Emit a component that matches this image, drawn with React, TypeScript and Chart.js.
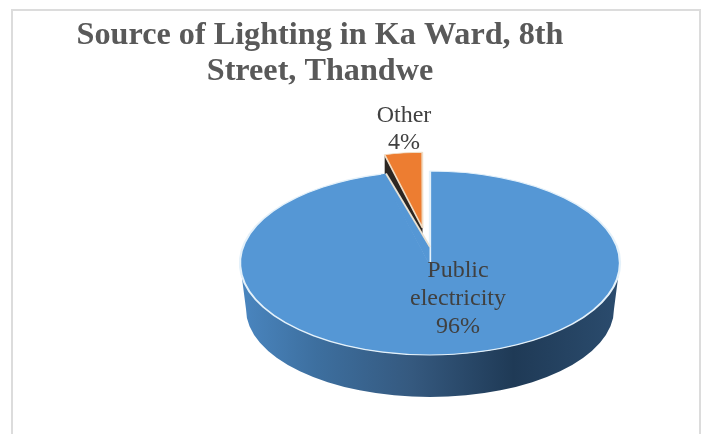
import React, { useEffect, useRef } from "react";
import { Chart, registerables } from "chart.js";

Chart.register(...registerables);

const categories = ["Public electricity", "Other"];
const shares = [96, 4];
const sliceColors = ["#5597d5", "#ed7d31"];
const titleLines = ["Source of Lighting in Ka Ward, 8th", "Street, Thandwe"];

const CX = 430, CY = 263, RX = 190, RY = 92;
const BOTTOM_CY = 309, BOTTOM_RX = 184, BOTTOM_RY = 88;
const WALL_DEPTH = 42;
const serif = "'Liberation Serif', serif";

const pie3d = {
  id: "pie3d",
  beforeDraw(chart: any) {
    const c = chart.ctx;
    c.save();
    c.fillStyle = "#fff";
    c.fillRect(0, 0, 705, 434);
    c.strokeStyle = "#dcdcdc";
    c.lineWidth = 2;
    c.strokeRect(12, 10, 688, 500);
    c.restore();
  },
  beforeDatasetDraw(chart: any) {
    const c = chart.ctx;
    const meta = chart.getDatasetMeta(0);
    const [blue, orange] = meta.data;
    const R = blue.outerRadius;
    const k = RX / R;

    // orange slice: wall then top
    const ok = 0.8;
    const oy = 75 / 190;
    const ox0 = 422.5, oy0 = 228;
    const off = orange.options.offset / 4;
    const half = (orange.startAngle + orange.endAngle) / 2;
    const place = () => {
      c.translate(ox0, oy0);
      c.scale(k * ok, k * oy);
      c.translate(-orange.x - Math.cos(half) * off, -orange.y - Math.sin(half) * off);
    };
    const a = (shares[1] / 100) * Math.PI * 2;
    const cornerX = ox0 - RX * ok * Math.sin(a);
    const cornerY = oy0 - 190 * oy * Math.cos(a);
    c.save();
    c.fillStyle = "#2c2622";
    c.beginPath();
    c.moveTo(ox0, oy0);
    c.lineTo(cornerX, cornerY);
    c.lineTo(cornerX, cornerY + WALL_DEPTH);
    c.lineTo(ox0, oy0 + WALL_DEPTH);
    c.closePath();
    c.fill();
    c.restore();
    c.save();
    place();
    orange.draw(c);
    c.restore();

    // blue side wall
    c.save();
    const g = c.createLinearGradient(CX - RX, 0, CX + RX, 0);
    g.addColorStop(0, "#4a86c0");
    g.addColorStop(0.2, "#3d6f9f");
    g.addColorStop(0.45, "#35597f");
    g.addColorStop(0.72, "#1f3a56");
    g.addColorStop(1, "#2b4c6e");
    c.fillStyle = g;
    c.beginPath();
    c.ellipse(CX, CY, RX, RY, 0, 0, Math.PI);
    c.lineTo(CX - BOTTOM_RX, BOTTOM_CY);
    c.ellipse(CX, BOTTOM_CY, BOTTOM_RX, BOTTOM_RY, 0, Math.PI, 0, true);
    c.closePath();
    c.fill();
    c.restore();

    // blue top
    c.save();
    c.translate(CX, CY);
    c.scale(k, k * (RY / RX));
    c.translate(-blue.x, -blue.y);
    blue.draw(c);
    c.restore();

    // perspective pulls the apex of the notch towards the far rim
    const tipX = 386;
    const tipY = CY - RY * Math.sqrt(1 - ((CX - tipX) / RX) ** 2);
    c.save();
    c.fillStyle = sliceColors[0];
    c.beginPath();
    c.moveTo(CX - 0.5, CY + 2);
    c.lineTo(tipX - 5, tipY + 1);
    c.lineTo(tipX, tipY);
    c.lineTo(CX - 0.5, CY - 16);
    c.closePath();
    c.fill();
    c.strokeStyle = "#e9e2d4";
    c.lineWidth = 1.8;
    c.beginPath();
    c.moveTo(tipX, tipY);
    c.lineTo(CX, CY - 16);
    c.stroke();
    c.restore();

    return false;
  },
  afterDatasetsDraw(chart: any) {
    const c = chart.ctx;
    c.save();
    c.fillStyle = "#404040";
    c.font = `24px ${serif}`;
    c.textAlign = "center";
    c.textBaseline = "alphabetic";
    const pct = (i: number) => `${shares[i]}%`;
    c.fillText(categories[1], 404, 122);
    c.fillText(pct(1), 404, 149);
    const [first, second] = categories[0].split(" ");
    c.fillText(first, 458, 277);
    c.fillText(second, 458, 305);
    c.fillText(pct(0), 458, 333);
    c.restore();
  },
};

export default function App() {
  const ref = useRef<HTMLCanvasElement>(null);
  useEffect(() => {
    document.body.style.margin = "0";
    const chart = new Chart(ref.current!, {
      type: "pie",
      data: {
        labels: categories,
        datasets: [
          {
            data: shares,
            backgroundColor: sliceColors,
            borderColor: ["#e4f1fa", "#f0dcc4"],
            borderWidth: 2,
            offset: [0, 8],
          },
        ],
      },
      options: {
        responsive: false,
        animation: false,
        layout: { padding: { left: 0, right: 65, top: 0, bottom: 0 } },
        plugins: {
          legend: { display: false },
          tooltip: { enabled: false },
          title: {
            display: true,
            text: titleLines,
            color: "#595959",
            font: { family: serif, size: 32.2, weight: "bold", lineHeight: 1.118 },
            padding: { top: 18, bottom: 4 },
          },
        },
      },
      plugins: [pie3d],
    } as any);
    return () => chart.destroy();
  }, []);
  return <canvas ref={ref} width={705} height={434} style={{ display: "block" }} />;
}
